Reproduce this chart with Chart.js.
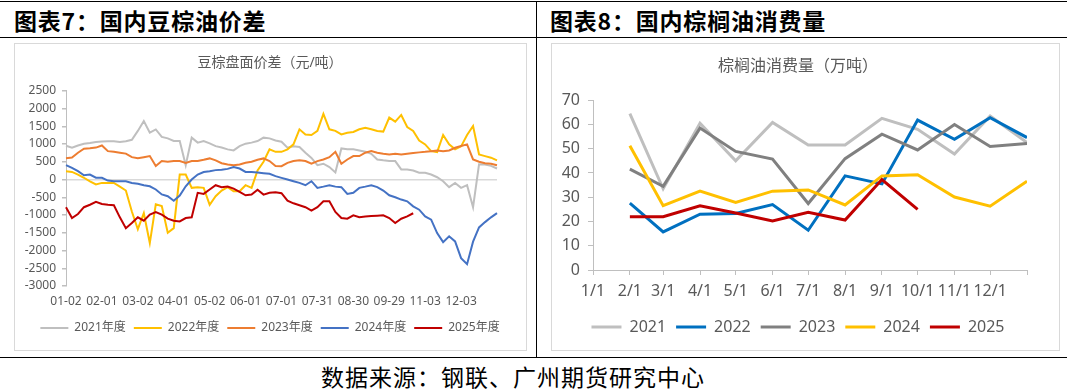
<!DOCTYPE html>
<html>
<head>
<meta charset="utf-8">
<script src="https://cdn.jsdelivr.net/npm/chart.js@4.4.1/dist/chart.umd.min.js"></script>
<style>
  body { margin: 0; width: 1067px; height: 389px; background: #fff; position: relative; overflow: hidden; font-family: "Noto Sans CJK SC", sans-serif; }
  .hline { position: absolute; left: 0; width: 1067px; height: 1px; background: #000; }
  .vline { position: absolute; left: 536px; top: 1px; width: 1px; height: 357px; background: #000; }
  .head { position: absolute; top: 5px; font-size: 23px; line-height: 30px; font-weight: bold; color: #000; letter-spacing: 0.8px; }
  .frame { position: absolute; top: 43px; height: 308px; border: 1px solid #d9d9d9; box-sizing: border-box; }
  .frame canvas { position: absolute; left: 0; top: 0; }
  .src { position: absolute; top: 362px; left: 321px; font-size: 23px; line-height: 28px; color: #000; white-space: nowrap; letter-spacing: 1px; }
</style>
</head>
<body>
<div class="hline" style="top:1px"></div>
<div class="hline" style="top:37px"></div>
<div class="hline" style="top:357px"></div>
<div class="vline"></div>
<div class="head" style="left:14px">图表7：国内豆棕油价差</div>
<div class="head" style="left:550px">图表8：国内棕榈油消费量</div>
<div class="frame" style="left:14px;width:513px"><canvas id="spread" width="511" height="306"></canvas></div>
<div class="frame" style="left:551px;width:509px"><canvas id="consume" width="507" height="306"></canvas></div>
<div class="src">数据来源：钢联、广州期货研究中心</div>

<script>
// ---- chart 7: soybean / palm oil futures spread, sampled every few days ----
const spreadTickLabels = ['01-02', '02-01', '03-02', '04-01', '05-02', '06-01', '07-01', '07-31', '08-30', '09-29', '11-03', '12-03'];
const spreadNames = ['2021年度', '2022年度', '2023年度', '2024年度', '2025年度'];

const spread2021 = [950, 900, 960, 1010, 1030, 1060, 1070, 1080, 1080, 1060, 1080, 1120, 1370, 1650, 1320, 1410, 1200, 1160,
  1085, 1085, 400, 1180, 1040, 1085, 1020, 940, 900, 850, 820, 940, 1010, 1040, 1085, 1180, 1160, 1100,
  1065, 895, 935, 915, 755, 610, 405, 445, 350, 200, 875, 850, 850, 820, 785, 725, 565, 540, 520,
  520, 285, 285, 255, 190, 190, 140, 65, -47, -215, -95, -235, -160, -780, 430, 425, 385, 310];
const spread2022 = [230, 215, 140, 50, -50, -140, -95, -95, -95, -200, -310, -900, -1400, -950, -1790, -700, -750, -1500,
  -1370, 140, 140, -235, -215, -235, -710, -470, -310, -215, -330, -330, -160, -235, 255, 500, 850, 780,
  780, 850, 990, 1415, 1270, 1255, 1370, 1850, 1415, 1370, 1270, 1320, 1340, 1415, 1460, 1415, 1370, 1350, 1745,
  1630, 1820, 1480, 1370, 1100, 990, 800, 775, 1255, 990, 850, 935, 1255, 1510, 705, 660, 615, 540];
const spread2023 = [600, 620, 755, 870, 880, 900, 960, 800, 780, 755, 730, 630, 600, 630, 660, 380, 520, 500,
  520, 520, 470, 520, 520, 555, 595, 540, 460, 425, 405, 425, 470, 500, 555, 595, 520, 380,
  377, 470, 520, 540, 520, 445, 520, 565, 630, 780, 445, 565, 660, 660, 755, 800, 755, 725, 705,
  725, 705, 725, 745, 765, 780, 800, 820, 800, 820, 895, 945, 990, 565, 500, 460, 445, 405];
const spread2024 = [405, 330, 235, 120, 140, 50, 50, -30, -50, -50, -50, -95, -120, -160, -190, -280, -420, -470,
  -600, -450, -190, 0, 140, 210, 235, 265, 275, 300, 350, 310, 215, 215, 200, 180, 160, 95,
  47, 0, -47, -95, -160, -47, -235, -200, -160, -200, -215, -405, -375, -235, -200, -160, -215, -310, -445,
  -500, -565, -615, -755, -850, -1040, -1130, -1510, -1765, -1600, -1745, -2215, -2385, -1750, -1350, -1200, -1065, -945];
const spread2025 = [-780, -1085, -970, -780, -710, -630, -690, -710, -725, -1065, -1370, -1225, -1065, -1160, -990, -915, -990, -1100,
  -1160, -1180, -1085, -1065, -375, -405, -280, -160, -215, -200, -255, -350, -445, -425, -290, -425, -375, -360,
  -385, -595, -670, -725, -780, -875, -780, -615, -615, -915, -1085, -1105, -1010, -1065, -1040, -1030, -1020, -1010, -1085,
  -1225, -1105, -1040, -950];

// ---- chart 8: palm oil consumption, monthly ----
const monthLabels = ['1/1', '2/1', '3/1', '4/1', '5/1', '6/1', '7/1', '8/1', '9/1', '10/1', '11/1', '12/1'];
const monthDays = [0, 31, 59, 90, 120, 151, 181, 212, 243, 273, 304, 334, 365];
const consumeNames = ['2021', '2022', '2023', '2024', '2025'];

const consume2021 = [64.5, 33.5, 60.5, 45, 60.8, 51.5, 51.5, 62.5, 58, 47.8, 63.5, 52.5];
const consume2022 = [27.6, 15.7, 23, 23.3, 27, 16.4, 38.8, 35.5, 61.8, 53.9, 62.8, 54.6];
const consume2023 = [41.6, 34.5, 58.5, 48.9, 45.7, 27.4, 45.9, 56, 49.5, 60, 50.9, 52.1];
const consume2024 = [51.2, 26.5, 32.5, 27.9, 32.5, 33, 26.8, 38.8, 39.3, 30.1, 26.3, 36.6];
const consume2025 = [22, 22, 26.5, 23.5, 20.2, 23.8, 20.6, 37.3, 25];

Chart.defaults.font.family = "'Noto Sans', 'Noto Sans CJK SC', sans-serif";
Chart.defaults.color = '#595959';

const axisGray = '#bfbfbf';

// empty right-hand axis, only used to reserve room so title/legend centre like the original
const spacerAxis = (w) => ({
    position: 'right',
    ticks: { display: false },
    grid: { display: false },
    border: { display: false },
    afterFit: (s) => { s.width = w; }
});

// Spread chart
const spreadColors = ['#bfbfbf', '#ffc000', '#ed7d31', '#4472c4', '#c00000'];
const spreadSeries = [spread2021, spread2022, spread2023, spread2024, spread2025];

new Chart(document.getElementById('spread'), {
    type: 'line',
    data: {
        labels: spread2021.map((_, i) => i),
        datasets: spreadSeries.map((values, k) => ({
            label: spreadNames[k],
            data: values,
            borderColor: spreadColors[k],
            backgroundColor: spreadColors[k],
            borderWidth: 2,
            order: 5 - k
        }))
    },
    options: {
        responsive: false,
        animation: false,
        layout: { padding: { left: 8, right: 9, top: 0, bottom: 6 } },
        elements: { point: { radius: 0 }, line: { tension: 0 } },
        plugins: {
            title: {
                display: true,
                text: '豆棕盘面价差（元/吨）',
                color: '#595959',
                font: { size: 14, weight: 'normal' },
                padding: { top: 11, bottom: 19 }
            },
            legend: {
                position: 'bottom',
                labels: {
                    usePointStyle: true,
                    pointStyle: 'line',
                    pointStyleWidth: 28,
                    font: { size: 12 },
                    padding: 8,
                    sort: (a, b) => a.datasetIndex - b.datasetIndex
                }
            },
            tooltip: { enabled: false }
        },
        scales: {
            x: {
                grid: { display: false, drawTicks: false },
                border: { display: false },
                ticks: {
                    autoSkip: false,
                    maxRotation: 0,
                    padding: 8,
                    font: { size: 12 },
                    callback: (v, i) => (i % 6 === 0 && i / 6 < spreadTickLabels.length) ? spreadTickLabels[i / 6] : ''
                },
                afterFit: (s) => { s.height = 28; }
            },
            y: {
                min: -3000,
                max: 2500,
                ticks: { stepSize: 500, autoSkip: false, font: { size: 12 }, padding: 6, callback: (v) => String(v) },
                grid: {
                    color: (ctx) => ctx.tick && ctx.tick.value === 0 ? '#d9d9d9' : 'rgba(0,0,0,0)',
                    lineWidth: 1.5,
                    tickColor: axisGray,
                    tickLength: 4
                },
                border: { color: axisGray },
                afterFit: (s) => { s.width = 43; }
            },
            ySpacer: spacerAxis(20)
        }
    }
});

// Consumption chart
const consumeColors = ['#bfbfbf', '#0070c0', '#808080', '#ffc000', '#c00000'];
const consumeSeries = [consume2021, consume2022, consume2023, consume2024, consume2025];

new Chart(document.getElementById('consume'), {
    type: 'line',
    data: {
        datasets: consumeSeries.map((values, k) => ({
            label: consumeNames[k],
            data: values.map((v, m) => ({ x: monthDays[m + 1], y: v })),
            borderColor: consumeColors[k],
            backgroundColor: consumeColors[k],
            borderWidth: 3,
            order: 5 - k
        }))
    },
    options: {
        responsive: false,
        animation: false,
        layout: { padding: { left: 8, right: 23, top: 0, bottom: 5 } },
        elements: { point: { radius: 0 }, line: { tension: 0 } },
        plugins: {
            title: {
                display: true,
                text: '棕榈油消费量（万吨）',
                color: '#595959',
                font: { size: 16, weight: 'normal' },
                padding: { top: 13, bottom: 24 }
            },
            legend: {
                position: 'bottom',
                labels: {
                    usePointStyle: true,
                    pointStyle: 'line',
                    pointStyleWidth: 30,
                    font: { size: 16 },
                    padding: 10,
                    sort: (a, b) => a.datasetIndex - b.datasetIndex
                }
            },
            tooltip: { enabled: false }
        },
        scales: {
            x: {
                type: 'linear',
                min: 0,
                max: 365,
                afterBuildTicks: (s) => { s.ticks = monthDays.map(v => ({ value: v })); },
                ticks: {
                    autoSkip: false,
                    padding: 7,
                    font: { size: 16 },
                    maxRotation: 0,
                    callback: (v) => {
                        const k = monthDays.indexOf(v);
                        return k >= 0 && k < monthLabels.length ? monthLabels[k] : '';
                    }
                },
                grid: { drawOnChartArea: false, tickLength: 5, color: axisGray },
                border: { color: axisGray },
                afterFit: (s) => { s.height = 39; }
            },
            y: {
                min: 0,
                max: 70,
                ticks: { stepSize: 10, autoSkip: false, font: { size: 16 }, padding: 8 },
                grid: { drawOnChartArea: false, tickLength: 5, color: axisGray },
                border: { color: axisGray },
                afterFit: (s) => { s.width = 33; }
            },
            ySpacer: spacerAxis(9)
        }
    }
});
</script>
</body>
</html>
